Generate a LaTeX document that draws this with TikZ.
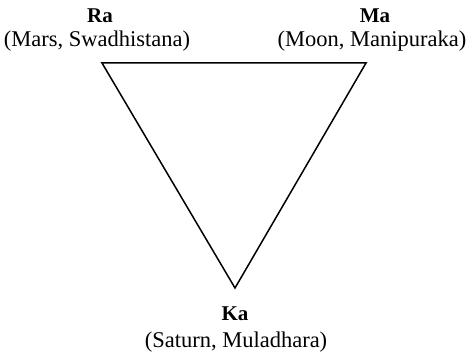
\documentclass[tikz,border=0pt]{standalone}
\usepackage{fontspec}
\setmainfont{Liberation Serif}
\begin{document}
\begin{tikzpicture}[x=1pt,y=-1pt,
  lbl/.style={anchor=base,inner sep=0pt,font=\fontsize{22.5}{26}\selectfont},
  ttl/.style={anchor=base,inner sep=0pt,font=\fontsize{21}{25}\selectfont\bfseries},
  edge/.style={line width=1.5pt,line join=miter}]
\useasboundingbox (0,0) rectangle (474,355);
\coordinate (ra) at (102,63);
\coordinate (ma) at (366,63);
\coordinate (ka) at (235,288);
\draw[edge] (ra) -- (ma) -- (ka) -- cycle;
\node[ttl] (raT) at (100,23) {Ra};
\node[lbl] (raS) at (97,47) {(Mars, Swadhistana)};
\node[ttl] (maT) at (375,23) {Ma};
\node[lbl] (maS) at (372,47) {(Moon, Manipuraka)};
\node[ttl] (kaT) at (235,321) {Ka};
\node[lbl] (kaS) at (236,348) {(Saturn, Muladhara)};
\end{tikzpicture}
\end{document}
